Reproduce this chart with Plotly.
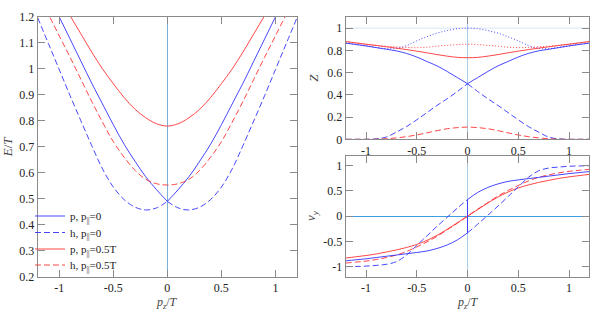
import plotly.graph_objects as go

# ---------------- data ----------------
P = [-1.2, -1.1, -1.0, -0.9, -0.8, -0.7, -0.6, -0.5, -0.4, -0.3, -0.2, -0.1, 0.0,
     0.1, 0.2, 0.3, 0.4, 0.5, 0.6, 0.7, 0.8, 0.9, 1.0, 1.1, 1.2]

# E/T dispersions
E_P0 = [1.37, 1.285, 1.2, 1.115, 1.03, 0.945, 0.865, 0.785, 0.71, 0.645, 0.585, 0.535, 0.49,
        0.535, 0.585, 0.645, 0.71, 0.785, 0.865, 0.945, 1.03, 1.115, 1.2, 1.285, 1.37]
E_H0 = [1.197, 1.097, 0.997, 0.897, 0.80, 0.705, 0.615, 0.545, 0.497, 0.468, 0.457, 0.465, 0.49,
        0.465, 0.457, 0.468, 0.497, 0.545, 0.615, 0.705, 0.80, 0.897, 0.997, 1.097, 1.197]
E_P5 = [1.44, 1.36, 1.28, 1.205, 1.135, 1.065, 1.0, 0.943, 0.89, 0.845, 0.812, 0.789, 0.78,
        0.789, 0.812, 0.845, 0.89, 0.943, 1.0, 1.065, 1.135, 1.205, 1.28, 1.36, 1.44]
E_H5 = [1.29, 1.21, 1.127, 1.045, 0.96, 0.875, 0.795, 0.72, 0.66, 0.61, 0.575, 0.558, 0.553,
        0.558, 0.575, 0.61, 0.66, 0.72, 0.795, 0.875, 0.96, 1.045, 1.127, 1.21, 1.29]

# Z residues
Z_P0 = [0.865, 0.853, 0.84, 0.825, 0.81, 0.795, 0.772, 0.74, 0.70, 0.66, 0.61, 0.555, 0.50,
        0.555, 0.61, 0.66, 0.70, 0.74, 0.772, 0.795, 0.81, 0.825, 0.84, 0.853, 0.865]
Z_H0 = [0.0, 0.0, 0.0, 0.004, 0.02, 0.065, 0.115, 0.175, 0.24, 0.305, 0.365, 0.43, 0.50,
        0.43, 0.365, 0.305, 0.24, 0.175, 0.115, 0.065, 0.02, 0.004, 0.0, 0.0, 0.0]
Z_T0 = [0.865, 0.853, 0.84, 0.826, 0.815, 0.818, 0.843, 0.885, 0.922, 0.955, 0.978, 0.995, 1.0,
        0.995, 0.978, 0.955, 0.922, 0.885, 0.843, 0.818, 0.815, 0.826, 0.84, 0.853, 0.865]
Z_P5 = [0.879, 0.867, 0.855, 0.844, 0.832, 0.82, 0.807, 0.793, 0.778, 0.762, 0.748, 0.737, 0.734,
        0.737, 0.748, 0.762, 0.778, 0.793, 0.807, 0.82, 0.832, 0.844, 0.855, 0.867, 0.879]
Z_H5 = [0.0, 0.0, 0.0, 0.001, 0.005, 0.013, 0.024, 0.039, 0.058, 0.078, 0.095, 0.105, 0.11,
        0.105, 0.095, 0.078, 0.058, 0.039, 0.024, 0.013, 0.005, 0.001, 0.0, 0.0, 0.0]
Z_T5 = [0.879, 0.867, 0.855, 0.845, 0.837, 0.831, 0.826, 0.824, 0.828, 0.837, 0.845, 0.852, 0.855,
        0.852, 0.845, 0.837, 0.828, 0.824, 0.826, 0.831, 0.837, 0.845, 0.855, 0.867, 0.879]

# group velocities (blue curves jump at p_z = 0)
P_LEFT = P[:13]
P_RIGHT = P[12:]
V_P0_LEFT = [-0.885, -0.865, -0.845, -0.82, -0.795, -0.77, -0.745, -0.72, -0.69, -0.64, -0.57, -0.47, -0.33]
V_P0_RIGHT = [0.33, 0.47, 0.57, 0.64, 0.69, 0.72, 0.745, 0.77, 0.795, 0.82, 0.845, 0.865, 0.885]
V_H0_LEFT = [-1.0, -0.997, -0.99, -0.975, -0.955, -0.90, -0.77, -0.58, -0.39, -0.20, -0.02, 0.16, 0.33]
V_H0_RIGHT = [-0.33, -0.16, 0.02, 0.20, 0.39, 0.58, 0.77, 0.90, 0.955, 0.975, 0.99, 0.997, 1.0]
V_P5 = [-0.83, -0.805, -0.78, -0.75, -0.71, -0.67, -0.62, -0.56, -0.48, -0.38, -0.26, -0.13, 0.0,
        0.13, 0.26, 0.38, 0.48, 0.56, 0.62, 0.67, 0.71, 0.75, 0.78, 0.805, 0.83]
V_H5 = [-0.93, -0.91, -0.89, -0.86, -0.82, -0.77, -0.70, -0.61, -0.51, -0.40, -0.27, -0.14, 0.0,
        0.14, 0.27, 0.40, 0.51, 0.61, 0.70, 0.77, 0.82, 0.86, 0.89, 0.91, 0.93]

LEGEND_NAMES = ["p, p<sub>||</sub>=0", "h, p<sub>||</sub>=0",
                "p, p<sub>||</sub>=0.5T", "h, p<sub>||</sub>=0.5T"]
X_TITLE = "<i>p<sub>z</sub></i>/<i>T</i>"

X_TICKS = [-1, -0.5, 0, 0.5, 1]
X_TICKTEXT = ["-1", "-0.5", "0", "0.5", "1"]
E_TICKS = [0.2, 0.3, 0.4, 0.5, 0.6, 0.7, 0.8, 0.9, 1.0, 1.1, 1.2]
E_TICKTEXT = ["0.2", "0.3", "0.4", "0.5", "0.6", "0.7", "0.8", "0.9", "1", "1.1", "1.2"]
Z_TICKS = [0, 0.2, 0.4, 0.6, 0.8, 1.0]
Z_TICKTEXT = ["0", "0.2", "0.4", "0.6", "0.8", "1"]
V_TICKS = [-1, -0.5, 0, 0.5, 1]
V_TICKTEXT = ["-1", "-0.5", "0", "0.5", "1"]

# ---------------- styling ----------------
BLUE = "rgb(50,50,255)"
RED = "rgb(255,50,50)"
DASH = "6px,3px"
DOT = "1px,2px"
FONT = "Liberation Serif"
W, H = 605, 309


def split(vals):
    """left half + gap + right half so the cusp at p_z=0 stays sharp"""
    return vals[:13] + [None] + vals[12:]


XS = P_LEFT + [None] + P_RIGHT
LEGENDS = ["legend", "legend2", "legend3", "legend4"]

fig = go.Figure()


def add(x, y, color, dash, xa, ya, name=None, legend=None, shape="spline"):
    kw = {}
    if legend:
        kw["legend"] = legend
    fig.add_trace(go.Scatter(
        x=x, y=y, mode="lines", name=name, showlegend=bool(legend),
        line=dict(color=color, width=0.9, dash=dash, shape=shape, smoothing=1),
        xaxis=xa, yaxis=ya, connectgaps=False, hoverinfo="skip", **kw))


# Left panel: E/T
add(XS, split(E_P0), BLUE, "solid", "x", "y", LEGEND_NAMES[0], LEGENDS[0])
add(XS, split(E_H0), BLUE, DASH, "x", "y", LEGEND_NAMES[1], LEGENDS[1])
add(P, E_P5, RED, "solid", "x", "y", LEGEND_NAMES[2], LEGENDS[2])
add(P, E_H5, RED, DASH, "x", "y", LEGEND_NAMES[3], LEGENDS[3])

# Top right: Z
add(XS, split(Z_T0), BLUE, DOT, "x2", "y2")
add(P, Z_T5, RED, DOT, "x2", "y2")
add(XS, split(Z_P0), BLUE, "solid", "x2", "y2")
add(XS, split(Z_H0), BLUE, DASH, "x2", "y2")
add(P, Z_P5, RED, "solid", "x2", "y2")
add(P, Z_H5, RED, DASH, "x2", "y2")

# Bottom right: v_y
add(P, V_P5, RED, "solid", "x3", "y3")
add(P, V_H5, RED, DASH, "x3", "y3")
add(P_LEFT + [None] + P_RIGHT, V_P0_LEFT + [None] + V_P0_RIGHT, BLUE, "solid", "x3", "y3")
add(P_LEFT + [None] + P_RIGHT, V_H0_LEFT + [None] + V_H0_RIGHT, BLUE, DASH, "x3", "y3")
# vertical jump at p_z = 0 joining the two halves
add([P_LEFT[-1], P_RIGHT[0]], [V_P0_LEFT[-1], V_P0_RIGHT[0]], BLUE, "solid", "x3", "y3", shape="linear")


def dom_x(a, b):
    return [a / W, b / W]


def dom_y(top, bottom):
    return [1 - bottom / H, 1 - top / H]


tickfont = dict(family=FONT, size=12, color="#222")
titlefont = dict(family=FONT, size=13, color="#444")
xtitlefont = dict(family=FONT, size=12, color="#444")
base = dict(showline=True, linecolor="#8a8a8a", linewidth=1, mirror="ticks",
            ticks="inside", ticklen=7, tickcolor="#8a8a8a", tickwidth=1,
            showgrid=False, tickfont=tickfont, automargin=False)

legend_rows = [216, 232.5, 249, 265]
legend_common = dict(xanchor="left", yanchor="middle", bgcolor="rgba(0,0,0,0)",
                     font=dict(family=FONT, size=11, color="#222"),
                     borderwidth=0, itemwidth=30)

fig.update_layout(
    width=W, height=H,
    margin=dict(l=0, r=0, t=0, b=0),
    paper_bgcolor="white", plot_bgcolor="white",
    font=dict(family=FONT, size=11, color="#222"),
    xaxis=dict(base, domain=dom_x(37.7, 297), range=[-1.2, 1.2],
               tickvals=X_TICKS, ticktext=X_TICKTEXT,
               zeroline=True, zerolinecolor="#79b1dc", zerolinewidth=1),
    yaxis=dict(base, domain=dom_y(17, 276.7), range=[0.2, 1.2],
               tickvals=E_TICKS, ticktext=E_TICKTEXT, zeroline=False,
               title=dict(text="<i>E</i>/<i>T</i>", font=titlefont, standoff=3)),
    xaxis2=dict(base, domain=dom_x(345.7, 589.3), range=[-1.2, 1.2],
                tickvals=X_TICKS, ticktext=X_TICKTEXT, anchor="y2",
                zeroline=True, zerolinecolor="#a9cbe6", zerolinewidth=1),
    yaxis2=dict(base, domain=dom_y(17, 139.3), range=[0, 1.1], anchor="x2",
                tickvals=Z_TICKS, ticktext=Z_TICKTEXT, zeroline=False,
                title=dict(text="<i>Z</i>", font=titlefont, standoff=5)),
    xaxis3=dict(base, domain=dom_x(345.7, 589.3), range=[-1.2, 1.2],
                tickvals=X_TICKS, ticktext=X_TICKTEXT, anchor="y3",
                zeroline=True, zerolinecolor="#a9cbe6", zerolinewidth=1),
    yaxis3=dict(base, domain=dom_y(155.7, 276.7), range=[-1.2, 1.2], anchor="x3",
                tickvals=V_TICKS, ticktext=V_TICKTEXT,
                zeroline=True, zerolinecolor="#3f9de0", zerolinewidth=1,
                title=dict(text="<i>v<sub>y</sub></i>", font=titlefont, standoff=4)),
    shapes=[dict(type="line", xref="x2 domain", yref="y2", x0=0, x1=1, y0=1, y1=1,
                 line=dict(color="#d6e6f3", width=1), layer="below")],
    annotations=[
        dict(text=X_TITLE, xref="x", yref="paper", x=0, y=1 - 302.5 / H,
             showarrow=False, xanchor="center", yanchor="middle", font=xtitlefont),
        dict(text=X_TITLE, xref="x3", yref="paper", x=0, y=1 - 302.5 / H,
             showarrow=False, xanchor="center", yanchor="middle", font=xtitlefont),
    ],
)
for name, row in zip(LEGENDS, legend_rows):
    fig.update_layout({name: dict(legend_common, x=30 / W, y=1 - row / H)})

fig.write_html("out.html",
               config={"displayModeBar": False, "staticPlot": True},
               post_script="document.body.style.margin='0';document.body.style.overflow='hidden';")
